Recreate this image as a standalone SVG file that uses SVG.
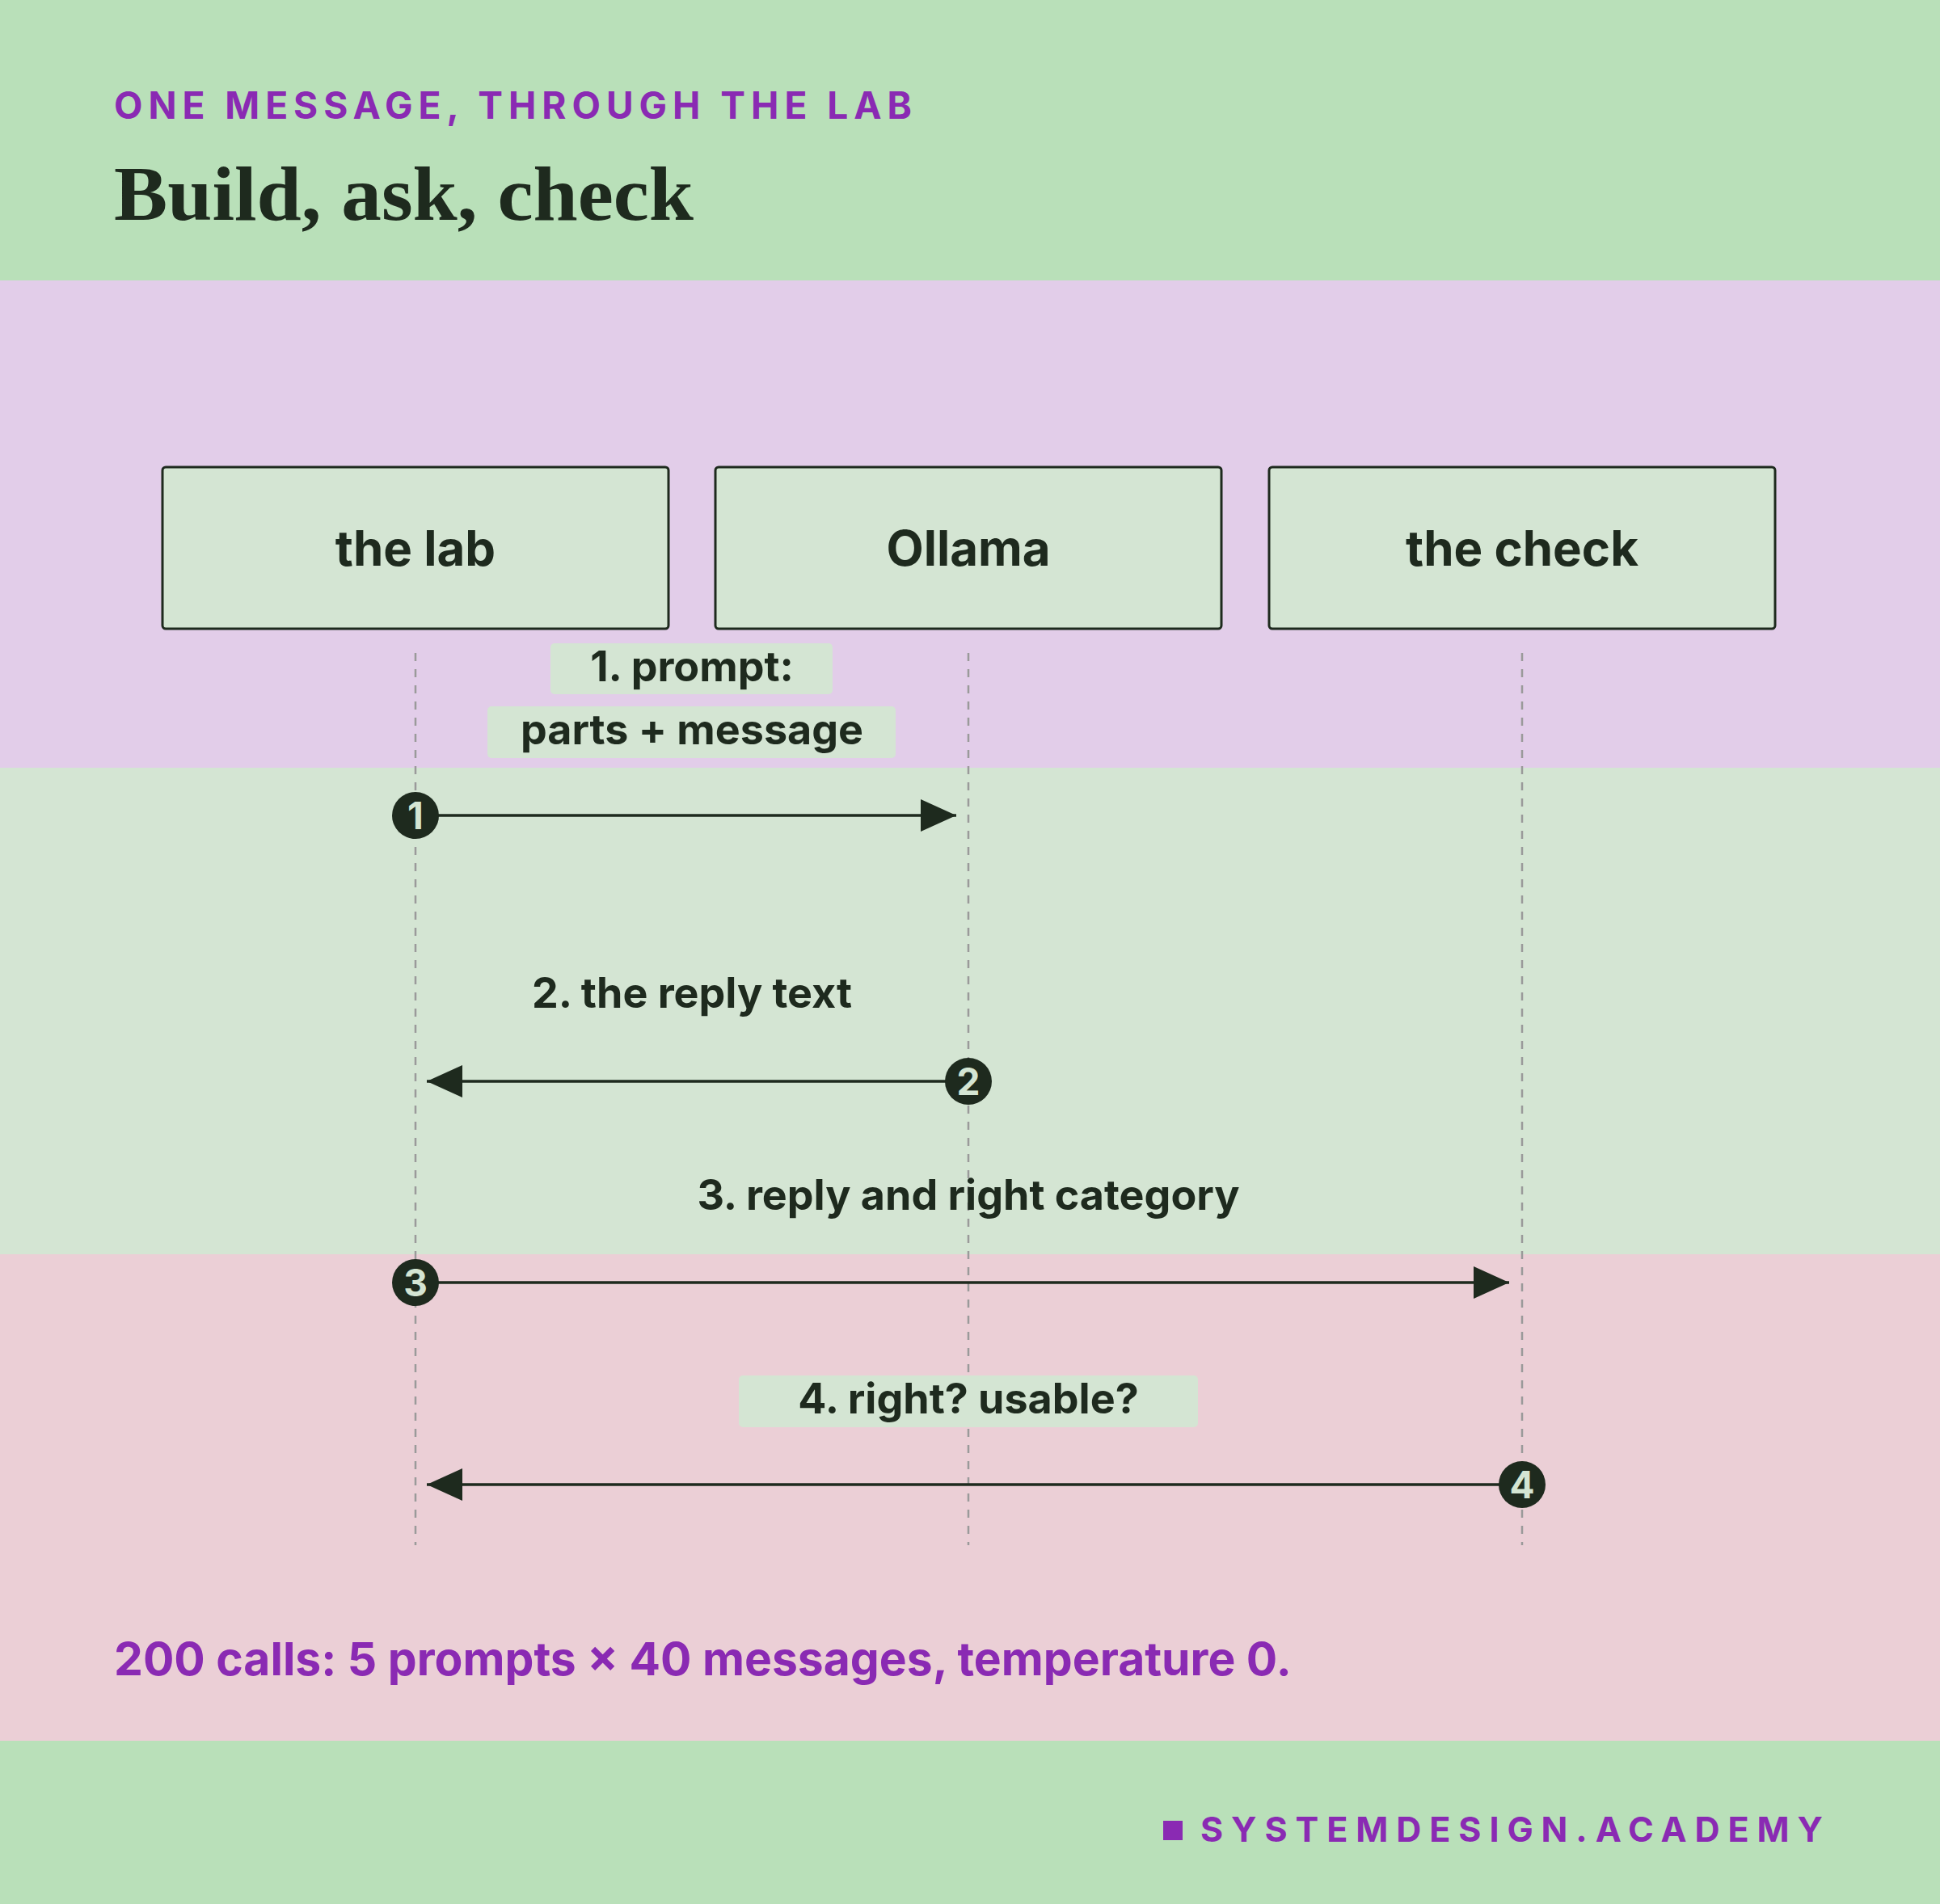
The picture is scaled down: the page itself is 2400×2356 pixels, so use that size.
<svg xmlns="http://www.w3.org/2000/svg" width="2400" height="2356" viewBox="0 0 2400 2356">
<style>
.s{font-family:Inter,"Liberation Sans",sans-serif;font-weight:700;fill:#1e2a1e}
.box{fill:#d4e5d3;stroke:#1e2a1e;stroke-width:3}
.lbl{fill:#d4e5d3}
.life{stroke:#9a9a9a;stroke-width:2.5;stroke-dasharray:10 10}
.ar{stroke:#1e2a1e;stroke-width:3.5;fill:none}
</style>
<defs>
<marker id="hb" viewBox="0 0 44 40" refX="44" refY="20" markerWidth="44" markerHeight="40" orient="auto" markerUnits="userSpaceOnUse"><path d="M0,0 L44,20 L0,40 Z" fill="#1e2a1e"/></marker>
</defs>
<rect width="2400" height="347" fill="#b9e0b9"/>
<rect y="347" width="2400" height="603" fill="#e2cde9"/>
<rect y="950" width="2400" height="602" fill="#d4e5d3"/>
<rect y="1552" width="2400" height="602" fill="#ebcfd6"/>
<rect y="2154" width="2400" height="202" fill="#b9e0b9"/>
<text x="141" y="147" class="s" font-size="46" textLength="987" lengthAdjust="spacing" style="fill:#8a2ab3">ONE MESSAGE, THROUGH THE LAB</text>
<text x="141" y="272" font-family="'Liberation Serif',serif" font-weight="700" font-size="96" fill="#1e2a1e" textLength="717" lengthAdjust="spacingAndGlyphs">Build, ask, check</text>
<g id="lifelines">
<line class="life" x1="514" y1="808" x2="514" y2="1912"/>
<line class="life" x1="1198" y1="808" x2="1198" y2="1912"/>
<line class="life" x1="1883" y1="808" x2="1883" y2="1912"/>
</g>
<g id="n-lab"><rect class="box" x="201" y="578" width="626" height="200" rx="4"/><text class="s" x="514" y="700" font-size="60" text-anchor="middle">the lab</text></g>
<g id="n-ollama"><rect class="box" x="885" y="578" width="626" height="200" rx="4"/><text class="s" x="1198" y="700" font-size="60" text-anchor="middle">Ollama</text></g>
<g id="n-check"><rect class="box" x="1570" y="578" width="626" height="200" rx="4"/><text class="s" x="1883" y="700" font-size="60" text-anchor="middle">the check</text></g>
<g id="connectors">
<rect class="lbl" x="681" y="796" width="349" height="63" rx="5"/>
<rect class="lbl" x="603" y="874" width="505" height="64" rx="5"/>
<text class="s" x="856" y="843" font-size="52" text-anchor="middle">1. prompt:</text>
<text class="s" x="856" y="921" font-size="52" text-anchor="middle">parts + message</text>
<line class="ar" x1="514" y1="1009" x2="1183" y2="1009" marker-end="url(#hb)"/>
<circle cx="514" cy="1009" r="29" fill="#1e2a1e"/><text class="s" x="514" y="1026" font-size="46" text-anchor="middle" style="fill:#d4e5d3">1</text>
<text class="s" x="856" y="1247" font-size="52" text-anchor="middle">2. the reply text</text>
<line class="ar" x1="1198" y1="1338" x2="528" y2="1338" marker-end="url(#hb)"/>
<circle cx="1198" cy="1338" r="29" fill="#1e2a1e"/><text class="s" x="1198" y="1355" font-size="46" text-anchor="middle" style="fill:#d4e5d3">2</text>
<text class="s" x="1198" y="1497" font-size="52" text-anchor="middle">3. reply and right category</text>
<line class="ar" x1="514" y1="1587" x2="1867" y2="1587" marker-end="url(#hb)"/>
<circle cx="514" cy="1587" r="29" fill="#1e2a1e"/><text class="s" x="514" y="1604" font-size="46" text-anchor="middle" style="fill:#d4e5d3">3</text>
<rect class="lbl" x="914" y="1702" width="568" height="64" rx="5"/>
<text class="s" x="1198" y="1749" font-size="52" text-anchor="middle">4. right? usable?</text>
<line class="ar" x1="1883" y1="1837" x2="528" y2="1837" marker-end="url(#hb)"/>
<circle cx="1883" cy="1837" r="29" fill="#1e2a1e"/><text class="s" x="1883" y="1854" font-size="46" text-anchor="middle" style="fill:#d4e5d3">4</text>
</g>
<text class="s" x="141" y="2073" font-size="57" style="fill:#8a2ab3">200 calls: 5 prompts × 40 messages, temperature 0.</text>
<rect x="1439" y="2253" width="24" height="24" fill="#8a2ab3"/>
<text class="s" x="1485" y="2279" font-size="43" textLength="770" lengthAdjust="spacing" style="fill:#8a2ab3">SYSTEMDESIGN.ACADEMY</text>
</svg>
